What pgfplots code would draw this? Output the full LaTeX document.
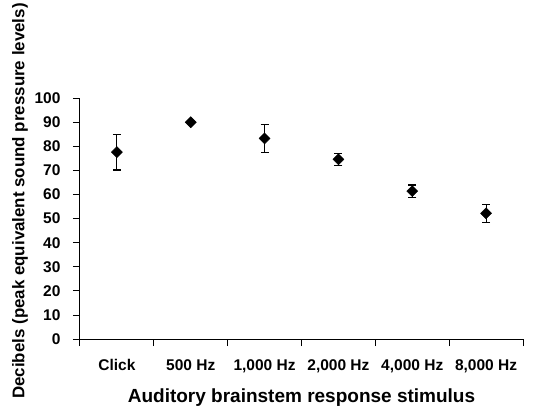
\documentclass[border=0pt]{standalone}
\usepackage{fontspec}
\setmainfont{Liberation Sans}
\usepackage{pgfplots}
\pgfplotsset{compat=1.18}
\begin{document}
\begin{tikzpicture}
\begin{axis}[
  scale only axis, width=443pt, height=241pt,
  xmin=0, xmax=6, ymin=0, ymax=100,
  axis x line*=bottom, axis y line*=left,
  axis line style={line width=1pt, -},
  xtick={0,...,6},
  xticklabels={Click,500 Hz,{1,000 Hz},{2,000 Hz},{4,000 Hz},{8,000 Hz}},
  x tick label as interval,
  ytick={0,10,...,100},
  tick align=outside, major tick length=7pt,
  tick style={line width=1pt, black},
  /pgf/number format/assume math mode=true,
  ticklabel style={font=\fontsize{15.5}{18}\selectfont\bfseries},
  xticklabel style={yshift=-10pt},
  yticklabel style={xshift=-9pt},
  xlabel={Auditory brainstem response stimulus},
  ylabel={Decibels (peak equivalent sound pressure levels)},
  xlabel style={font=\fontsize{19}{22}\selectfont\bfseries, at={(axis description cs:0.5,-0.2407)}, anchor=center},
  ylabel style={font=\fontsize{16.9}{20}\selectfont\bfseries, at={(axis description cs:-0.1354,0.573)}, anchor=center, rotate=0},
  clip=false,
]
\addplot[only marks, mark=square*, mark size=3.9pt, mark options={rotate=45, fill=black, draw=black},
  error bars/.cd, y dir=both, y explicit,
  error mark options={rotate=90, mark size=4pt, line width=1.2pt},
  error bar style={line width=1.1pt, black}]
  table[x=x, y=y, y error=e] {
x y e
0.5 77.6 7.4
1.5 90.0 0
2.5 83.3 5.7
3.5 74.6 2.5
4.5 61.4 2.6
5.5 52.2 3.7
};
\end{axis}
\path ([shift={(-80pt,-71pt)}]current axis.south west) rectangle ([shift={(11pt,97pt)}]current axis.north east);
\end{tikzpicture}
\end{document}
